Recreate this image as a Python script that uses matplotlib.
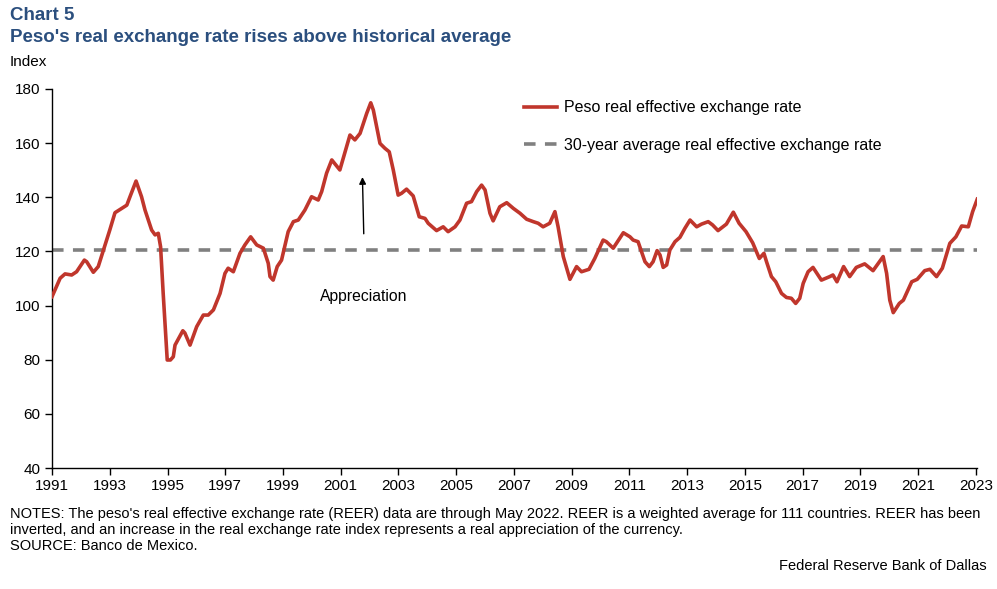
import matplotlib
matplotlib.use("Agg")
import matplotlib.pyplot as plt

plt.rcParams['font.family'] = ['Liberation Sans', 'DejaVu Sans']

# Peso real effective exchange rate (index), by decimal year
years = [1991.0, 1991.28, 1991.45, 1991.68, 1991.85, 1992.12, 1992.2, 1992.43, 1992.6,
         1992.78, 1993.0, 1993.18, 1993.59, 1993.7, 1993.91, 1994.1, 1994.22, 1994.45,
         1994.57, 1994.68, 1994.76, 1994.85, 1994.99, 1995.1, 1995.2, 1995.26, 1995.53,
         1995.6, 1995.78, 1996.01, 1996.24, 1996.41, 1996.59, 1996.82, 1996.99, 1997.1,
         1997.28, 1997.51, 1997.68, 1997.88, 1998.09, 1998.32, 1998.49, 1998.55, 1998.66,
         1998.8, 1998.95, 1999.18, 1999.36, 1999.53, 1999.76, 1999.99, 2000.22, 2000.34,
         2000.51, 2000.69, 2000.97, 2001.32, 2001.49, 2001.67, 2001.9, 2002.04, 2002.13,
         2002.36, 2002.53, 2002.68, 2002.82, 2002.99, 2003.11, 2003.28, 2003.51, 2003.72,
         2003.92, 2004.03, 2004.32, 2004.55, 2004.72, 2004.96, 2005.13, 2005.36, 2005.53,
         2005.71, 2005.88, 2006.0, 2006.17, 2006.28, 2006.51, 2006.75, 2006.98, 2007.21,
         2007.44, 2007.67, 2007.84, 2008.01, 2008.24, 2008.42, 2008.53, 2008.71, 2008.94,
         2009.17, 2009.34, 2009.6, 2009.8, 2010.09, 2010.2, 2010.44, 2010.79, 2011.02,
         2011.13, 2011.3, 2011.54, 2011.69, 2011.82, 2011.96, 2012.06, 2012.17, 2012.29,
         2012.4, 2012.58, 2012.75, 2012.92, 2013.1, 2013.33, 2013.5, 2013.73, 2013.88,
         2014.07, 2014.36, 2014.6, 2014.8, 2015.04, 2015.27, 2015.5, 2015.66, 2015.75,
         2015.92, 2016.07, 2016.27, 2016.44, 2016.61, 2016.76, 2016.9, 2017.02, 2017.19,
         2017.36, 2017.65, 2017.94, 2018.05, 2018.19, 2018.42, 2018.63, 2018.86, 2019.15,
         2019.44, 2019.79, 2019.91, 2020.02, 2020.14, 2020.35, 2020.49, 2020.78, 2020.97,
         2021.23, 2021.41, 2021.64, 2021.84, 2022.1, 2022.31, 2022.51, 2022.74, 2022.89,
         2023.05]
reer = [103.3, 110.1, 111.7, 111.3, 112.5, 116.8, 116.2, 112.3, 114.4,
        120.5, 127.9, 134.3, 137.1, 140.2, 146.0, 140.2, 135.3, 127.9,
        126.1, 126.7, 121.7, 104.5, 79.9, 79.9, 81.1, 85.4, 90.7,
        89.9, 85.4, 92.2, 96.5, 96.5, 98.4, 104.5, 111.9, 113.8,
        112.5, 119.3, 122.4, 125.4, 122.4, 121.2, 115.6, 110.7, 109.4,
        114.4, 116.8, 127.3, 131.0, 131.6, 135.3, 140.2, 139.0, 142.1,
        148.9, 153.8, 150.1, 163.0, 161.2, 163.6, 171.0, 174.9, 172.2,
        159.9, 158.1, 156.8, 150.1, 140.8, 141.5, 143.0, 140.5, 132.8,
        132.2, 130.4, 127.7, 129.1, 127.3, 129.1, 131.6, 137.8, 138.4,
        142.1, 144.5, 142.7, 134.1, 131.3, 136.5, 138.0, 135.9, 134.1,
        131.9, 131.0, 130.4, 129.1, 130.4, 134.7, 129.1, 118.1, 109.7,
        114.4, 112.5, 113.4, 117.4, 124.2, 123.6, 121.2, 126.9, 125.4,
        124.2, 123.6, 116.2, 114.4, 116.2, 120.3, 118.7, 114.1, 115.0,
        120.5, 123.6, 125.2, 128.5, 131.6, 129.1, 130.1, 131.0, 129.8,
        127.7, 130.1, 134.5, 130.4, 127.3, 123.2, 117.4, 119.3, 116.2,
        110.7, 108.8, 104.5, 103.0, 102.7, 100.8, 102.7, 108.2, 112.5,
        114.1, 109.4, 110.7, 111.3, 108.8, 114.4, 110.7, 114.1, 115.4,
        112.9, 118.1, 111.9, 102.0, 97.4, 100.8, 102.0, 108.8, 109.7,
        112.9, 113.4, 110.7, 113.8, 123.0, 125.4, 129.4, 129.1, 134.7,
        139.3]
avg_value = 120.5
avg_span = [1991.0, 2023.05]

x_ticks = list(range(1991, 2024, 2))
y_ticks = list(range(40, 181, 20))

red = '#c0362c'
grey = '#808080'
navy = '#2b4f7e'

fig = plt.figure(figsize=(9.97, 5.89), dpi=100)
ax = fig.add_axes([0.0522, 0.2054, 0.928, 0.6435])

ax.plot(years, reer, color=red, lw=2.6, label='Peso real effective exchange rate', zorder=3)
ax.plot(avg_span, [avg_value, avg_value], color=grey, lw=2.6, ls=(0, (3.2, 2.6)),
        label='30-year average real effective exchange rate', zorder=2)

ax.set_xlim(1991, 2023.05)
ax.set_ylim(40, 180)
ax.set_xticks(x_ticks)
ax.set_yticks(y_ticks)
ax.tick_params(direction='out', length=5, width=1, labelsize=11, colors='black')
ax.tick_params(axis='x', pad=3)
for s in ['top', 'right']:
    ax.spines[s].set_visible(False)
for s in ['left', 'bottom']:
    ax.spines[s].set_linewidth(1)

ax.legend(loc='upper left', bbox_to_anchor=(0.4944, 1.008), frameon=False, fontsize=11.5,
          handlelength=2.05, handletextpad=0.45, labelspacing=1.4)

ax.annotate('', xy=(2001.75, 148.5), xytext=(2001.8, 125.5),
            arrowprops=dict(arrowstyle='-|>', color='black', lw=1, mutation_scale=10))
ax.text(2001.8, 103.5, 'Appreciation', ha='center', va='center', fontsize=11.3)

fig.text(0.01, 0.9745, 'Chart 5', color=navy, fontsize=13.5, fontweight='bold', va='center')
fig.text(0.01, 0.937, "Peso's real exchange rate rises above historical average", color=navy,
         fontsize=13.5, fontweight='bold', va='center')
fig.text(0.01, 0.8947, 'Index', fontsize=11, va='center')

fig.text(0.01, 0.1392, "NOTES: The peso's real effective exchange rate (REER) data are through May 2022. "
         "REER is a weighted average for 111 countries. REER has been\ninverted, and an increase in the "
         "real exchange rate index represents a real appreciation of the currency.\nSOURCE: Banco de Mexico.",
         fontsize=10.55, va='top', linespacing=1.2)
fig.text(0.99, 0.039, 'Federal Reserve Bank of Dallas', fontsize=10.5, ha='right', va='center')

fig.savefig('out.png', dpi=100)
